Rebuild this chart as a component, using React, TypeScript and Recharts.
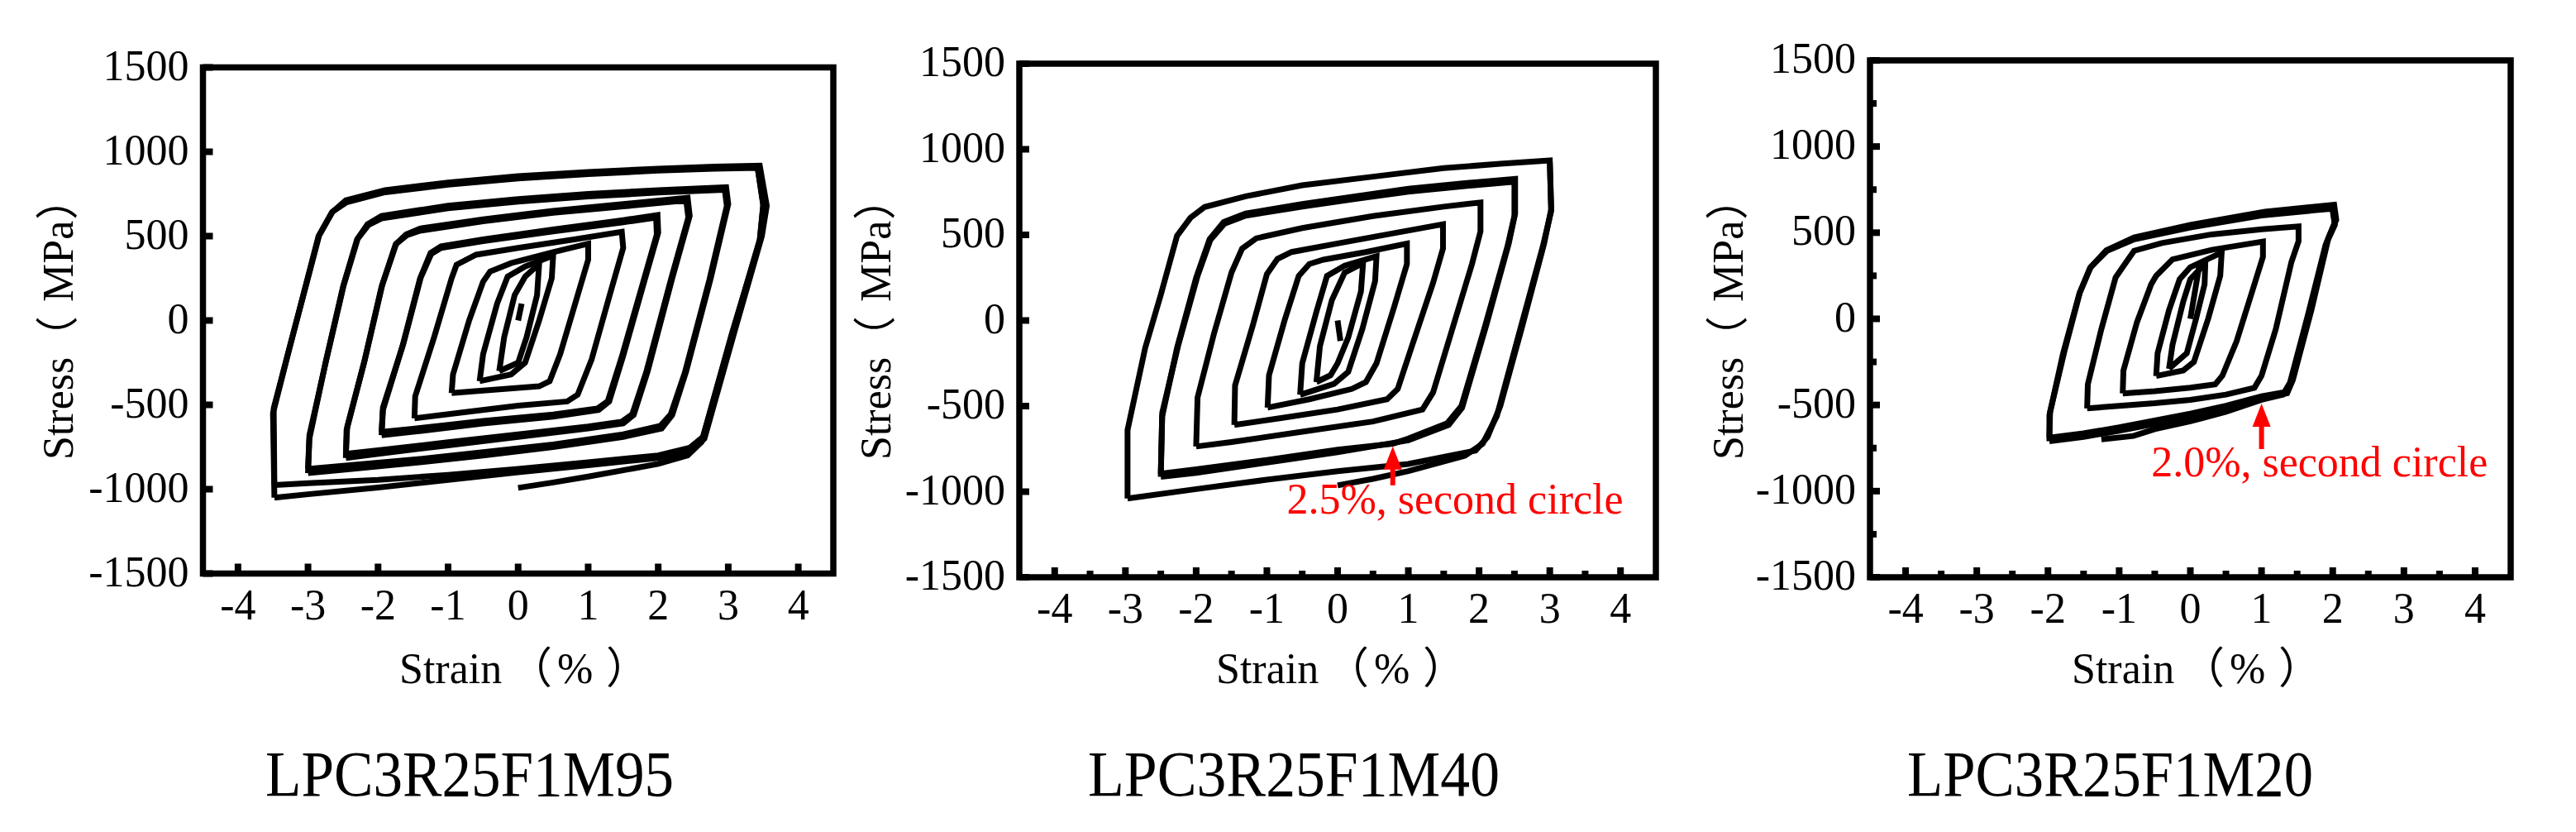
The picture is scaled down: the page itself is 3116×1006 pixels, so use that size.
import React from 'react';
import { LineChart, Line, XAxis, YAxis, ReferenceArea, ReferenceLine, ReferenceDot } from 'recharts';

type Pt = [number, number];

// ---------- tick labels / text ----------
const xMajorTicks = [-4, -3, -2, -1, 0, 1, 2, 3, 4];
const xMinorTicks = [-3.5, -2.5, -1.5, -0.5, 0.5, 1.5, 2.5, 3.5];
const yMajorTicks = [-1500, -1000, -500, 0, 500, 1000, 1500];
const yMinorTicks = [-1250, -750, -250, 250, 750, 1250];
const panelTitles = ['LPC3R25F1M95', 'LPC3R25F1M40', 'LPC3R25F1M20'];
const xLabelParts = ['Strain', '（', '%', '）'];
const yLabelParts = ['Stress', '（', 'MPa', '）'];

// ---------- Panel 1 (LPC3R25F1M95) loops: [strain %, stress MPa] ----------
const p1Init: Pt[] = [[0, 0], [0.05, 100]];
const p1A025: Pt[] = [[-0.27, -300], [-0.2, -100], [-0.05, 150], [0.1, 260], [0.3, 335], [0.27, 150], [0.12, -100], [0, -250], [-0.27, -300]];
const p1A05: Pt[] = [[-0.55, -360], [-0.5, -200], [-0.3, 100], [-0.15, 260], [0.1, 320], [0.5, 385], [0.48, 250], [0.3, 0], [0.1, -250], [-0.1, -320], [-0.55, -360]];
const p1A10: Pt[] = [[-0.95, -430], [-0.93, -320], [-0.7, 0], [-0.5, 230], [-0.4, 290], [-0.1, 340], [0.5, 405], [1.0, 455], [1.0, 360], [0.8, 80], [0.6, -200], [0.45, -360], [0.3, -390], [0, -400], [-0.5, -415], [-0.95, -430]];
const p1A15: Pt[] = [[-1.48, -580], [-1.47, -450], [-1.2, -100], [-0.95, 250], [-0.88, 330], [-0.6, 390], [0, 430], [0.8, 480], [1.48, 525], [1.5, 430], [1.3, 140], [1.05, -230], [0.85, -440], [0.7, -480], [0, -505], [-0.8, -545], [-1.48, -580]];
const p1A20a: Pt[] = [[-1.95, -680], [-1.93, -530], [-1.65, -150], [-1.4, 250], [-1.25, 400], [-1.1, 440], [-0.5, 480], [0.5, 540], [1.5, 595], [1.99, 625], [2.0, 520], [1.8, 230], [1.5, -210], [1.3, -480], [1.15, -530], [0.5, -570], [-0.5, -610], [-1.5, -660], [-1.95, -680]];
const p1A20b: Pt[] = [[-1.95, -660], [-1.93, -515], [-1.64, -140], [-1.39, 255], [-1.24, 395], [-1.1, 430], [-0.5, 470], [0.5, 528], [1.5, 582], [1.97, 610], [1.98, 510], [1.78, 220], [1.48, -215], [1.28, -478], [1.13, -522], [0.5, -558], [-0.5, -596], [-1.5, -642], [-1.95, -660]];
const p1A25a: Pt[] = [[-2.46, -815], [-2.45, -650], [-2.2, -250], [-1.95, 200], [-1.75, 450], [-1.6, 510], [-1.4, 545], [-0.5, 600], [0.5, 650], [1.5, 690], [2.42, 728], [2.45, 620], [2.2, 250], [1.85, -300], [1.65, -560], [1.5, -610], [1.0, -640], [0, -690], [-1.0, -740], [-2.0, -790], [-2.46, -815]];
const p1A25b: Pt[] = [[-2.46, -790], [-2.44, -630], [-2.19, -235], [-1.94, 210], [-1.74, 455], [-1.59, 505], [-1.4, 532], [-0.5, 588], [0.5, 638], [1.5, 676], [2.4, 712], [2.43, 610], [2.18, 240], [1.83, -305], [1.63, -555], [1.48, -600], [1.0, -628], [0, -675], [-1.0, -722], [-2.0, -770], [-2.46, -790]];
const p1A30a: Pt[] = [[-3.0, -905], [-2.98, -700], [-2.75, -250], [-2.5, 200], [-2.3, 480], [-2.15, 570], [-1.95, 620], [-1.0, 680], [0, 720], [1.0, 750], [2.0, 772], [2.97, 790], [3.0, 690], [2.75, 250], [2.4, -300], [2.2, -560], [2.05, -640], [1.5, -690], [0.5, -750], [-0.5, -800], [-1.5, -845], [-2.5, -885], [-3.0, -905]];
const p1A30b: Pt[] = [[-3.0, -880], [-2.98, -680], [-2.74, -235], [-2.49, 210], [-2.29, 485], [-2.14, 565], [-1.95, 605], [-1.0, 665], [0, 705], [1.0, 735], [2.0, 758], [2.95, 775], [2.98, 680], [2.73, 240], [2.38, -310], [2.18, -555], [2.03, -625], [1.5, -675], [0.5, -735], [-0.5, -780], [-1.5, -825], [-2.5, -862], [-3.0, -880]];
const p1A35a: Pt[] = [[-3.48, -1050], [-3.5, -550], [-3.28, -190], [-3.05, 180], [-2.85, 500], [-2.66, 640], [-2.46, 712], [-1.9, 772], [-1.0, 818], [0, 855], [1.0, 880], [2.0, 900], [2.8, 912], [3.45, 918], [3.55, 680], [3.48, 500], [3.1, -50], [2.66, -700], [2.48, -768], [2.0, -815], [1.0, -858], [0, -900], [-1.0, -945], [-2.0, -990], [-3.0, -1030], [-3.48, -1050]];
const p1A35b: Pt[] = [[-3.48, -975], [-3.49, -520], [-3.27, -170], [-3.04, 190], [-2.84, 505], [-2.65, 645], [-2.45, 700], [-1.9, 760], [-1.0, 805], [0, 842], [1.0, 868], [2.0, 888], [2.8, 900], [3.42, 905], [3.5, 690], [3.45, 480], [3.07, -60], [2.64, -690], [2.45, -755], [2.0, -800], [1.0, -840], [0, -880], [-1.0, -915], [-2.0, -945], [-3.0, -965], [-3.48, -975]];
const p1Tail: Pt[] = [[3.42, 905], [3.5, 680], [3.45, 470], [3.05, -80], [2.62, -720], [2.42, -800], [2.0, -850], [1.0, -925], [0.5, -960], [0, -992]];
const panel1Loops: Pt[][] = [p1Init, p1A025, p1A05, p1A10, p1A15, p1A20a, p1A20b, p1A25a, p1A25b, p1A30a, p1A30b, p1A35a, p1A35b, p1Tail];

// ---------- Panel 2 (LPC3R25F1M40) ----------
const p2Init: Pt[] = [[0, 0], [0.04, -120]];
const p2A025: Pt[] = [[-0.3, -360], [-0.25, -150], [-0.08, 120], [0.1, 280], [0.36, 335], [0.33, 170], [0.15, -100], [0, -250], [-0.1, -320], [-0.3, -360]];
const p2A05: Pt[] = [[-0.53, -434], [-0.5, -250], [-0.3, 50], [-0.15, 260], [0.1, 320], [0.55, 375], [0.53, 230], [0.35, -50], [0.15, -300], [-0.05, -370], [-0.53, -434]];
const p2A10: Pt[] = [[-0.99, -509], [-0.97, -320], [-0.75, 0], [-0.55, 260], [-0.4, 330], [-0.2, 355], [0.4, 400], [0.98, 449], [0.98, 330], [0.8, 80], [0.55, -250], [0.4, -360], [0.2, -400], [-0.4, -460], [-0.99, -509]];
const p2A15: Pt[] = [[-1.46, -610], [-1.45, -380], [-1.2, -30], [-1.0, 270], [-0.85, 360], [-0.65, 400], [0, 450], [0.8, 510], [1.49, 562], [1.49, 420], [1.35, 220], [1.05, -150], [0.85, -400], [0.7, -460], [0, -520], [-0.8, -570], [-1.46, -610]];
const p2A20: Pt[] = [[-2.0, -736], [-1.98, -450], [-1.75, -80], [-1.5, 280], [-1.35, 420], [-1.15, 480], [-0.5, 540], [0.5, 610], [1.5, 665], [2.02, 689], [2.02, 520], [1.9, 330], [1.6, -80], [1.35, -420], [1.2, -520], [0.5, -590], [-0.5, -650], [-1.5, -710], [-2.0, -736]];
const p2A25a: Pt[] = [[-2.5, -913], [-2.48, -560], [-2.27, -160], [-2.0, 250], [-1.81, 475], [-1.61, 575], [-1.3, 625], [-0.5, 680], [0.25, 725], [1.0, 770], [1.8, 802], [2.51, 827], [2.51, 625], [2.42, 450], [2.1, -30], [1.76, -510], [1.57, -610], [1.0, -700], [0, -770], [-1.0, -830], [-2.0, -890], [-2.5, -913]];
const p2A25b: Pt[] = [[-2.5, -895], [-2.48, -540], [-2.25, -140], [-1.98, 260], [-1.8, 470], [-1.6, 565], [-1.3, 612], [-0.5, 665], [0.25, 710], [1.0, 752], [1.8, 785], [2.5, 810], [2.5, 610], [2.4, 430], [2.08, -40], [1.75, -500], [1.55, -600], [1.0, -690], [0.78, -720], [0, -755], [-1.0, -815], [-2.0, -870], [-2.5, -895]];
const p2A30: Pt[] = [[-2.97, -1040], [-2.97, -640], [-2.72, -160], [-2.5, 150], [-2.27, 495], [-2.08, 600], [-1.88, 663], [-1.3, 725], [-0.5, 790], [0.5, 840], [1.5, 890], [2.3, 915], [3.0, 935], [3.02, 650], [2.92, 450], [2.6, -50], [2.3, -500], [2.12, -680], [1.95, -760], [1.0, -838], [0, -880], [-1.0, -930], [-2.0, -985], [-2.97, -1040]];
const p2Tail: Pt[] = [[3.0, 925], [3.02, 640], [2.9, 430], [2.55, -100], [2.25, -560], [2.05, -720], [1.8, -790], [1.0, -880], [0.5, -925], [0, -963]];
const panel2Loops: Pt[][] = [p2Init, p2A025, p2A05, p2A10, p2A15, p2A20, p2A25a, p2A25b, p2A30, p2Tail];

// ---------- Panel 3 (LPC3R25F1M20) ----------
const p3Init: Pt[] = [[0, 0], [0.13, 320]];
const p3A025: Pt[] = [[-0.3, -290], [-0.25, -150], [-0.1, 100], [0.0, 230], [0.21, 322], [0.2, 200], [0.08, 0], [-0.05, -200], [-0.3, -290]];
const p3A05: Pt[] = [[-0.48, -332], [-0.46, -200], [-0.3, 50], [-0.15, 230], [0.0, 300], [0.44, 385], [0.42, 250], [0.25, 0], [0.05, -250], [-0.1, -300], [-0.48, -332]];
const p3A10: Pt[] = [[-0.95, -433], [-0.94, -300], [-0.75, -20], [-0.55, 200], [-0.48, 250], [-0.25, 345], [0.3, 400], [1.02, 448], [1.02, 360], [0.9, 200], [0.65, -130], [0.45, -330], [0.35, -380], [0, -400], [-0.5, -420], [-0.95, -433]];
const p3A15: Pt[] = [[-1.45, -520], [-1.44, -380], [-1.25, -60], [-1.05, 240], [-0.95, 300], [-0.79, 395], [-0.4, 440], [0.3, 490], [1.0, 520], [1.52, 536], [1.52, 450], [1.42, 330], [1.2, -60], [1.0, -330], [0.9, -400], [0.5, -440], [0, -470], [-0.5, -490], [-1.0, -505], [-1.45, -520]];
const p3A20a: Pt[] = [[-1.98, -710], [-1.98, -560], [-1.79, -205], [-1.56, 145], [-1.41, 295], [-1.18, 398], [-0.79, 472], [0, 545], [1.05, 622], [2.02, 662], [2.05, 575], [1.94, 470], [1.7, 50], [1.44, -355], [1.36, -432], [1.05, -460], [0.5, -520], [0, -570], [-0.5, -610], [-1.0, -650], [-1.5, -685], [-1.98, -710]];
const p3A20b: Pt[] = [[-1.98, -690], [-1.97, -540], [-1.77, -190], [-1.55, 155], [-1.4, 300], [-1.17, 395], [-0.8, 460], [0, 530], [1.0, 600], [2.0, 640], [2.03, 560], [1.92, 450], [1.68, 40], [1.43, -360], [1.34, -425], [1.0, -450], [0.5, -505], [0, -550], [-0.5, -590], [-1.0, -630], [-1.5, -665], [-1.98, -690]];
const p3Tail: Pt[] = [[2.0, 625], [2.03, 545], [1.9, 430], [1.65, 20], [1.4, -370], [1.3, -440], [1.0, -470], [0.5, -540], [0, -595], [-0.5, -640], [-0.8, -680], [-1.25, -700]];
const panel3Loops: Pt[][] = [p3Init, p3A025, p3A05, p3A10, p3A15, p3A20a, p3A20b, p3Tail];

// ---------- annotations (data coordinates) ----------
const p2Arrow = { x: 0.78, from: -963, to: -736 };
const p2Note = { x: -0.72, y: -1130, text: '2.5%, second circle' };
const p3Arrow = { x: 1.0, from: -756, to: -492 };
const p3Note = { x: -0.55, y: -914, text: '2.0%, second circle' };

// ---------- layout ----------
const W = 3116;
const H = 1006;
const TM = 10;
const YW = 120;
const XH = 100;
const SERIF = "'Liberation Serif', 'Times New Roman', serif";
const CJK = "'Noto Sans CJK SC', 'Noto Sans CJK JP', sans-serif";

type Box = { l: number; r: number; t: number; b: number };

const panels = [
  { box: { l: 245.5, r: 1008, t: 81.5, b: 693.5 }, loops: panel1Loops, xMinor: false, yMinor: false, arrow: null, note: null,
    titleX: 321, titleW: 494, xLabelX: 483, yLabelX: 88 },
  { box: { l: 1233, r: 2003, t: 77, b: 698 }, loops: panel2Loops, xMinor: true, yMinor: false, arrow: p2Arrow, note: p2Note,
    titleX: 1316, titleW: 498, xLabelX: 1471, yLabelX: 1077 },
  { box: { l: 2262, r: 3037, t: 73, b: 698 }, loops: panel3Loops, xMinor: true, yMinor: true, arrow: p3Arrow, note: p3Note,
    titleX: 2307, titleW: 491, xLabelX: 2506, yLabelX: 2108 },
];

const toPts = (arr: Pt[]) => arr.map(([x, y]) => ({ x, y }));

const renderXTick = (props: any) => {
  const { x, y, payload } = props;
  const v = payload.value;
  const axisY = y - TM;
  const major = xMajorTicks.includes(v);
  return (
    <g>
      <line x1={x} x2={x} y1={axisY} y2={axisY - (major ? 12 : 8)} stroke="#000" strokeWidth={8} />
      {major && (
        <text x={x} y={axisY + 55} textAnchor="middle" fontSize={52} fontFamily={SERIF} fill="#000">
          {String(v)}
        </text>
      )}
    </g>
  );
};

const renderYTick = (props: any) => {
  const { x, y, payload } = props;
  const v = payload.value;
  const axisX = x + TM;
  const major = yMajorTicks.includes(v);
  return (
    <g>
      <line x1={axisX} x2={axisX + (major ? 12 : 8)} y1={y} y2={y} stroke="#000" strokeWidth={8} />
      {major && (
        <text x={axisX - 17} y={y + 15} textAnchor="end" fontSize={52} fontFamily={SERIF} fill="#000">
          {String(v)}
        </text>
      )}
    </g>
  );
};

const arrowShape = (p: any) => {
  const { x1, y1, x2, y2 } = p;
  return (
    <g>
      <line x1={x1} y1={y1} x2={x2} y2={y2 + 20} stroke="#ff0000" strokeWidth={6} />
      <polygon points={`${x2},${y2} ${x2 - 11},${y2 + 28} ${x2 + 11},${y2 + 28}`} fill="#ff0000" />
    </g>
  );
};

function Panel({ cfg }: { cfg: any }) {
  const box: Box = cfg.box;
  const margin = { left: box.l - YW, right: W - box.r, top: box.t, bottom: H - box.b - XH };
  const xTicks = cfg.xMinor ? [...xMajorTicks, ...xMinorTicks] : xMajorTicks;
  const yTicks = cfg.yMinor ? [...yMajorTicks, ...yMinorTicks] : yMajorTicks;
  return (
    <div style={{ position: 'absolute', left: 0, top: 0 }}>
      <LineChart width={W} height={H} margin={margin}>
        <XAxis type="number" dataKey="x" domain={[-4.5, 4.5]} ticks={xTicks} interval={0} tickSize={0} tickMargin={TM}
          tickLine={false} axisLine={false} height={XH} tick={renderXTick} allowDataOverflow />
        <YAxis type="number" domain={[-1500, 1500]} ticks={yTicks} interval={0} tickSize={0} tickMargin={TM}
          tickLine={false} axisLine={false} width={YW} tick={renderYTick} allowDataOverflow />
        {cfg.loops.map((lp: Pt[], i: number) => (
          <Line key={i} data={toPts(lp)} dataKey="y" type="linear" stroke="#000" strokeWidth={7}
            strokeLinejoin="miter" dot={false} activeDot={false} isAnimationActive={false} />
        ))}
        <ReferenceArea x1={-4.5} x2={4.5} y1={-1500} y2={1500} fill="none" fillOpacity={0} stroke="#000"
          strokeWidth={7.5} ifOverflow="visible" />
        {cfg.arrow && (
          <ReferenceLine segment={[{ x: cfg.arrow.x, y: cfg.arrow.from }, { x: cfg.arrow.x, y: cfg.arrow.to }]}
            ifOverflow="visible" shape={arrowShape} />
        )}
        {cfg.note && (
          <ReferenceDot x={cfg.note.x} y={cfg.note.y} r={0} ifOverflow="visible"
            shape={(p: any) => (
              <text x={p.cx} y={p.cy} fontSize={52} fontFamily={SERIF} fill="#ff0000">{cfg.note.text}</text>
            )} />
        )}
      </LineChart>
    </div>
  );
}

export default function App() {
  return (
    <div style={{ position: 'absolute', left: 0, top: 0, width: W, height: H, background: '#fff', overflow: 'hidden' }}>
      {panels.map((cfg, i) => <Panel key={i} cfg={cfg} />)}
      <svg width={W} height={H} style={{ position: 'absolute', left: 0, top: 0, pointerEvents: 'none' }}>
        {panels.map((cfg, i) => {
          const x0 = cfg.xLabelX;
          return (
            <g key={i}>
              <text x={cfg.titleX} y={962} fontSize={79} fontFamily={SERIF} fill="#000"
                textLength={cfg.titleW} lengthAdjust="spacingAndGlyphs">{panelTitles[i]}</text>
              <text y={826} fontSize={52} fontFamily={SERIF} fill="#000">
                <tspan x={x0}>{xLabelParts[0]}</tspan>
                <tspan x={x0 + 133} fontFamily={CJK}>{xLabelParts[1]}</tspan>
                <tspan x={x0 + 191}>{xLabelParts[2]}</tspan>
                <tspan x={x0 + 250} fontFamily={CJK}>{xLabelParts[3]}</tspan>
              </text>
              <text y={0} fontSize={52} fontFamily={SERIF} fill="#000"
                transform={`translate(${cfg.yLabelX},556) rotate(-90)`}>
                <tspan x={0}>{yLabelParts[0]}</tspan>
                <tspan x={122} fontFamily={CJK}>{yLabelParts[1]}</tspan>
                <tspan x={191}>{yLabelParts[2]}</tspan>
                <tspan x={290} fontFamily={CJK}>{yLabelParts[3]}</tspan>
              </text>
            </g>
          );
        })}
      </svg>
    </div>
  );
}
